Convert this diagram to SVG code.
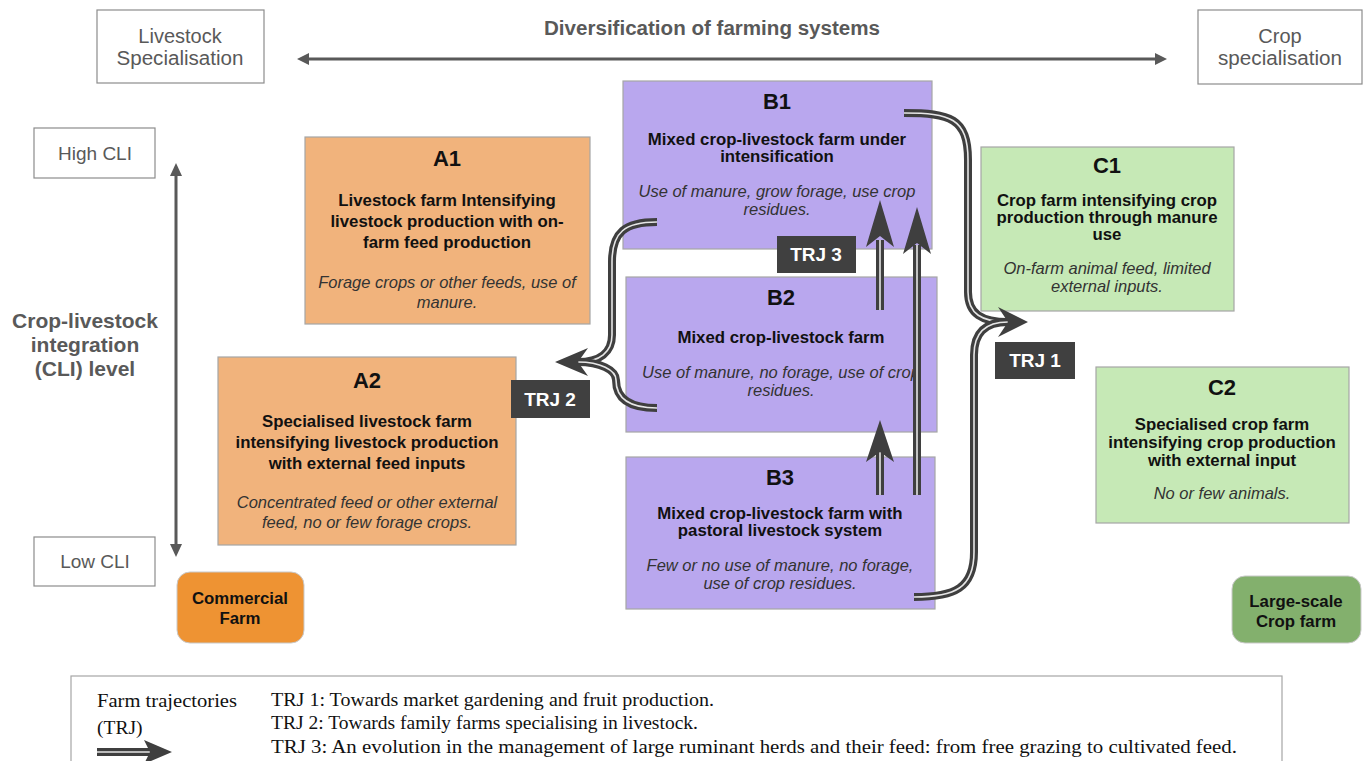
<svg xmlns="http://www.w3.org/2000/svg" width="1365" height="761" viewBox="0 0 1365 761">
<defs>
<style>
.lbl{fill:#fff;stroke:#8c8c8c;stroke-width:1.2}
.gt{font-family:"Liberation Sans",Arial,sans-serif;fill:#595959;text-anchor:middle}
.box{stroke:#a6a6a6;stroke-width:1.2}
.a{fill:#F1B37C}.b{fill:#B9A7EE}.c{fill:#C6E9B6}
.t{font-family:"Liberation Sans",Arial,sans-serif;text-anchor:middle;fill:#111}
.h{font-size:22px;font-weight:bold}
.bd{font-size:16.8px;font-weight:bold}
.it{font-size:16.5px;font-style:italic;fill:#333}
.trj{fill:#404040}
.trjt{font-family:"Liberation Sans",Arial,sans-serif;font-weight:bold;font-size:19px;fill:#fff;text-anchor:middle}
.sd{fill:none;stroke:#3f3f3f;stroke-width:8}
.sl{fill:none;stroke:#e6e6e6;stroke-width:1.6}
.hd{fill:#3f3f3f}
.ax{stroke:#595959;stroke-width:3;fill:none}
.leg{font-family:"Liberation Serif","Times New Roman",serif;font-size:19.5px;fill:#111}
</style>
</defs>
<rect width="1365" height="761" fill="#fff"/>

<g id="axis-labels">
<g id="livestock-spec"><rect class="lbl" x="97" y="10" width="167" height="73"/>
<text class="gt" x="180" y="43" font-size="20">Livestock</text><text class="gt" x="180" y="65" font-size="20" textLength="127" lengthAdjust="spacingAndGlyphs">Specialisation</text></g>
<g id="title"><text class="gt" x="712" y="35" font-size="20" font-weight="bold" textLength="336" lengthAdjust="spacingAndGlyphs">Diversification of farming systems</text></g>
<g id="crop-spec"><rect class="lbl" x="1198" y="10" width="164" height="74"/>
<text class="gt" x="1280" y="43" font-size="20">Crop</text><text class="gt" x="1280" y="65" font-size="20" textLength="124" lengthAdjust="spacingAndGlyphs">specialisation</text></g>
<g id="high-cli"><rect class="lbl" x="34" y="128" width="121" height="50"/><text class="gt" x="95" y="160" font-size="19">High CLI</text></g>
<g id="low-cli"><rect class="lbl" x="34" y="537" width="121" height="49"/><text class="gt" x="95" y="568" font-size="19">Low CLI</text></g>
<g id="cli-level"><text class="gt" font-size="21" font-weight="bold"><tspan x="85" y="328">Crop-livestock</tspan><tspan x="85" y="352">integration</tspan><tspan x="85" y="376">(CLI) level</tspan></text></g>
</g>

<g id="axes">
<line class="ax" x1="305" y1="59" x2="1157" y2="59"/>
<polygon points="297,59 309,53 309,65" fill="#595959"/>
<polygon points="1167,59 1155,53 1155,65" fill="#595959"/>
<line class="ax" x1="176" y1="173" x2="176" y2="547"/>
<polygon points="176,163 170,176 182,176" fill="#595959"/>
<polygon points="176,557 170,544 182,544" fill="#595959"/>
</g>

<g id="A1"><rect class="box a" x="305" y="137" width="285" height="187"/>
<text class="t h" x="447" y="166">A1</text>
<text class="t bd"><tspan x="447" y="206">Livestock farm Intensifying</tspan><tspan x="447" y="227">livestock production with on-</tspan><tspan x="447" y="248">farm feed production</tspan></text>
<text class="t it"><tspan x="447" y="288">Forage crops or other feeds, use of</tspan><tspan x="447" y="308">manure.</tspan></text></g>

<g id="A2"><rect class="box a" x="218" y="357" width="298" height="188"/>
<text class="t h" x="367" y="388">A2</text>
<text class="t bd"><tspan x="367" y="427">Specialised livestock farm</tspan><tspan x="367" y="448">intensifying  livestock production</tspan><tspan x="367" y="469">with external feed inputs</tspan></text>
<text class="t it"><tspan x="367" y="508">Concentrated feed or other external</tspan><tspan x="367" y="528">feed, no or few forage crops.</tspan></text></g>

<g id="B1"><rect class="box b" x="623" y="81" width="309" height="168"/>
<text class="t h" x="777" y="109">B1</text>
<text class="t bd"><tspan x="777" y="145">Mixed crop-livestock farm under</tspan><tspan x="777" y="162">intensification</tspan></text>
<text class="t it"><tspan x="777" y="197">Use of manure, grow forage, use crop</tspan><tspan x="777" y="215">residues.</tspan></text></g>

<g id="B2"><rect class="box b" x="626" y="277" width="311" height="155"/>
<text class="t h" x="781" y="305">B2</text>
<text class="t bd" x="781" y="343">Mixed crop-livestock farm</text>
<text class="t it"><tspan x="781" y="378">Use of manure, no forage, use of crop</tspan><tspan x="781" y="396">residues.</tspan></text></g>

<g id="B3"><rect class="box b" x="626" y="457" width="309" height="152"/>
<text class="t h" x="780" y="485">B3</text>
<text class="t bd"><tspan x="780" y="519">Mixed crop-livestock farm with</tspan><tspan x="780" y="536">pastoral livestock system</tspan></text>
<text class="t it"><tspan x="780" y="571">Few or no use of manure, no forage,</tspan><tspan x="780" y="589">use of crop residues.</tspan></text></g>

<g id="C1"><rect class="box c" x="981" y="147" width="253" height="164"/>
<text class="t h" x="1107" y="173">C1</text>
<text class="t bd"><tspan x="1107" y="206">Crop farm intensifying crop</tspan><tspan x="1107" y="223">production through manure</tspan><tspan x="1107" y="240">use</tspan></text>
<text class="t it"><tspan x="1107" y="274">On-farm animal feed,  limited</tspan><tspan x="1107" y="292">external inputs.</tspan></text></g>

<g id="C2"><rect class="box c" x="1096" y="367" width="253" height="156"/>
<text class="t h" x="1222" y="395">C2</text>
<text class="t bd"><tspan x="1222" y="430">Specialised crop farm</tspan><tspan x="1222" y="448">intensifying  crop production</tspan><tspan x="1222" y="466">with external input</tspan></text>
<text class="t it" x="1222" y="499">No or few animals.</text></g>

<g id="commercial-farm"><rect x="177" y="572" width="127" height="71" rx="13" fill="#EE9333" stroke="#c9c9c9"/>
<text class="t bd" font-size="18"><tspan x="240" y="604">Commercial</tspan><tspan x="240" y="624">Farm</tspan></text></g>

<g id="large-scale-crop-farm"><rect x="1232" y="576" width="129" height="67" rx="13" fill="#83B06D" stroke="#c9c9c9"/>
<text class="t bd" font-size="18"><tspan x="1296" y="607">Large-scale</tspan><tspan x="1296" y="627">Crop farm</tspan></text></g>

<g id="connectors">
<path class="sd" d="M880,310 V240"/><path class="sl" d="M880,310 V240"/>
<polygon class="hd" points="880,200 894,247 880,236 866,247"/>
<path class="sd" d="M917,495 V245"/><path class="sl" d="M917,495 V245"/>
<polygon class="hd" points="917,207 931,254 917,243 903,254"/>
<path class="sd" d="M880,495 V452"/><path class="sl" d="M880,495 V452"/>
<polygon class="hd" points="880,420 894,462 880,452 866,462"/>
<path class="sd" d="M904,113 C950,113 968,118 968,160 L968,292 C968,314 982,322 1008,322"/>
<path class="sl" d="M904,113 C950,113 968,118 968,160 L968,292 C968,314 982,322 1008,322"/>
<path class="sd" d="M914,597 C955,597 974,588 974,552 L974,355 C974,334 984,322 1008,322"/>
<path class="sl" d="M914,597 C955,597 974,588 974,552 L974,355 C974,334 984,322 1008,322"/>
<polygon class="hd" points="1028,322 998,307 1008,322 998,337"/>
<path class="sd" d="M657,222 C625,222 612,232 612,262 L612,335 C612,352 600,362 578,362"/>
<path class="sl" d="M657,222 C625,222 612,232 612,262 L612,335 C612,352 600,362 578,362"/>
<path class="sd" d="M657,408 C632,408 616,400 616,380 C616,370 600,362 578,362"/>
<path class="sl" d="M657,408 C632,408 616,400 616,380 C616,370 600,362 578,362"/>
<polygon class="hd" points="555,362 588,348 578,362 588,376"/>
</g>

<g id="trj-labels">
<g id="TRJ3"><rect class="trj" x="777" y="236" width="79" height="37"/><text class="trjt" x="816" y="261">TRJ 3</text></g>
<g id="TRJ2"><rect class="trj" x="511" y="380" width="79" height="38"/><text class="trjt" x="550" y="406">TRJ 2</text></g>
<g id="TRJ1"><rect class="trj" x="995" y="342" width="80" height="37"/><text class="trjt" x="1035" y="367">TRJ 1</text></g>
</g>

<g id="legend">
<rect x="71" y="676" width="1211" height="100" fill="#fff" stroke="#a6a6a6" stroke-width="1.2"/>
<text class="leg" x="97" y="707" textLength="140" lengthAdjust="spacingAndGlyphs">Farm trajectories</text>
<text class="leg" x="97" y="734">(TRJ)</text>
<path class="sd" d="M97,752 H150"/><path class="sl" d="M97,752 H150"/>
<polygon class="hd" points="172,752 144,740 150,752 144,764"/>
<text class="leg" x="271" y="706" textLength="443" lengthAdjust="spacingAndGlyphs">TRJ 1: Towards market gardening and fruit production.</text>
<text class="leg" x="271" y="729" textLength="427" lengthAdjust="spacingAndGlyphs">TRJ 2: Towards family  farms specialising  in livestock.</text>
<text class="leg" x="271" y="753" textLength="966" lengthAdjust="spacingAndGlyphs">TRJ 3: An evolution  in the management of large ruminant herds and their feed: from free grazing to cultivated feed.</text>
</g>
</svg>
